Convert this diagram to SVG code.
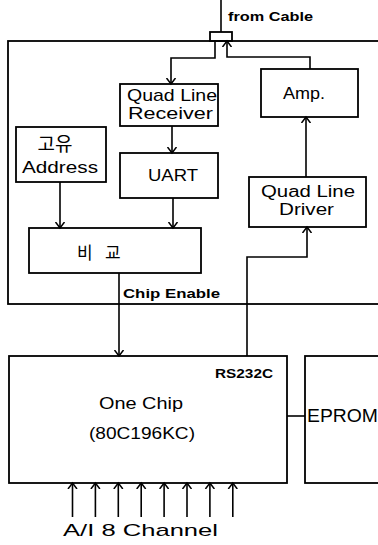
<svg xmlns="http://www.w3.org/2000/svg" width="378" height="545" viewBox="0 0 378 545">
<style>
.box{fill:none;stroke:#000;stroke-width:1.8}
.ln{fill:none;stroke:#000;stroke-width:1.6}
.t{font-family:"Liberation Sans",Arial,sans-serif;fill:#000}
.k{font-family:"Noto Sans CJK KR",sans-serif;fill:#000}
</style>
<defs>
<marker id="ah" markerWidth="12" markerHeight="12" refX="6" refY="6" orient="auto" markerUnits="userSpaceOnUse">
<path d="M0,1.5 L6,6 L0,10.5" fill="none" stroke="#000" stroke-width="1.5"/>
</marker>
</defs>
<rect width="378" height="545" fill="#fff"/>
<g id="outer"><rect class="box" x="8" y="41" width="380" height="263"/></g>
<g id="cable">
<rect class="box" x="210" y="32" width="22" height="9" fill="#fff"/>
<text class="t" x="228" y="21" font-size="13" font-weight="bold" textLength="85" lengthAdjust="spacingAndGlyphs">from Cable</text>
</g>
<g id="qlr"><rect class="box" x="120" y="84" width="98" height="42"/>
<text class="t" x="127" y="101" font-size="17" textLength="90" lengthAdjust="spacingAndGlyphs">Quad Line</text>
<text class="t" x="128" y="119" font-size="17" textLength="85" lengthAdjust="spacingAndGlyphs">Receiver</text></g>
<g id="amp"><rect class="box" x="261" y="69" width="97" height="48"/>
<text class="t" x="283" y="99" font-size="17" textLength="42" lengthAdjust="spacingAndGlyphs">Amp.</text></g>
<g id="addr"><rect class="box" x="16" y="127" width="90" height="55"/>
<text class="k" x="55" y="151" font-size="19" text-anchor="middle">고유</text>
<text class="t" x="22" y="173" font-size="17" textLength="76" lengthAdjust="spacingAndGlyphs">Address</text></g>
<g id="uart"><rect class="box" x="120" y="153" width="98" height="45"/>
<text class="t" x="148" y="181" font-size="17" textLength="50" lengthAdjust="spacingAndGlyphs">UART</text></g>
<g id="qld"><rect class="box" x="249" y="177" width="117" height="50"/>
<text class="t" x="261" y="197" font-size="16" textLength="94" lengthAdjust="spacingAndGlyphs">Quad Line</text>
<text class="t" x="279" y="215" font-size="16" textLength="55" lengthAdjust="spacingAndGlyphs">Driver</text></g>
<g id="cmp"><rect class="box" x="29" y="228" width="172" height="45"/>
<text class="k" x="77" y="259" font-size="17">비</text>
<text class="k" x="105" y="259" font-size="17">교</text></g>
<g id="chipenable"><text class="t" x="123" y="298" font-size="13" font-weight="bold" textLength="97" lengthAdjust="spacingAndGlyphs">Chip Enable</text></g>
<g id="onechip"><rect class="box" x="9" y="356" width="278" height="127"/>
<text class="t" x="215" y="378" font-size="13" font-weight="bold" textLength="58" lengthAdjust="spacingAndGlyphs">RS232C</text>
<text class="t" x="99" y="409" font-size="17" textLength="84" lengthAdjust="spacingAndGlyphs">One Chip</text>
<text class="t" x="89" y="439" font-size="17" textLength="106" lengthAdjust="spacingAndGlyphs">(80C196KC)</text></g>
<g id="eprom"><rect class="box" x="305" y="356" width="80" height="127"/>
<text class="t" x="307" y="422" font-size="19" textLength="71" lengthAdjust="spacingAndGlyphs">EPROM</text></g>
<g id="ai"><text class="t" x="63" y="536" font-size="17" textLength="155" lengthAdjust="spacingAndGlyphs">A/I  8 Channel</text></g>
<g id="connectors">
<path class="ln" d="M221,0 V32"/>
<path class="ln" d="M215,41 V58 H171 V84" marker-end="url(#ah)"/>
<path class="ln" d="M310,69 V57 H227 V41" marker-end="url(#ah)"/>
<path class="ln" d="M172,126 V153" marker-end="url(#ah)"/>
<path class="ln" d="M60,182 V228" marker-end="url(#ah)"/>
<path class="ln" d="M173,198 V228" marker-end="url(#ah)"/>
<path class="ln" d="M306,177 V117" marker-end="url(#ah)"/>
<path class="ln" d="M247,356 V257 H307 V227" marker-end="url(#ah)"/>
<path class="ln" d="M119,273 V356" marker-end="url(#ah)"/>
<path class="ln" d="M287,416 H305"/>
<path class="ln" d="M72.5,517 V483" marker-end="url(#ah)"/>
<path class="ln" d="M95.4,517 V483" marker-end="url(#ah)"/>
<path class="ln" d="M118.3,517 V483" marker-end="url(#ah)"/>
<path class="ln" d="M141.2,517 V483" marker-end="url(#ah)"/>
<path class="ln" d="M164.1,517 V483" marker-end="url(#ah)"/>
<path class="ln" d="M187,517 V483" marker-end="url(#ah)"/>
<path class="ln" d="M209.9,517 V483" marker-end="url(#ah)"/>
<path class="ln" d="M232.8,517 V483" marker-end="url(#ah)"/>
</g>
</svg>
